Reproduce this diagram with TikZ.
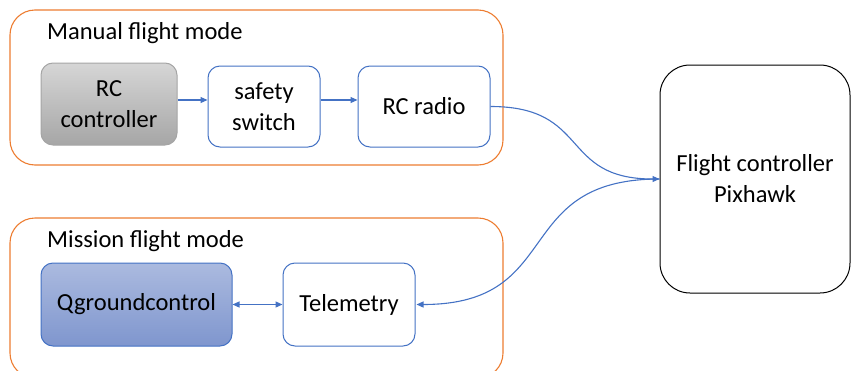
\documentclass[tikz,border=0pt]{standalone}
\usepackage{fontspec}
\setmainfont{Carlito}
\usetikzlibrary{arrows.meta}
\definecolor{orng}{HTML}{ED7D31}
\definecolor{blu}{HTML}{4472C4}
\definecolor{gtop}{HTML}{D6D6D6}
\definecolor{gbot}{HTML}{A6A6A6}
\definecolor{gbrd}{HTML}{A5A5A5}
\definecolor{btop}{HTML}{ABBADF}
\definecolor{bbot}{HTML}{7F96CE}
\tikzset{
  group/.style={draw=orng, line width=1.1pt, rounded corners=25pt, inner sep=0pt},
  blk/.style={draw=blu, line width=1pt, rounded corners=12pt, fill=white, align=center, inner sep=0pt},
  title/.style={anchor=base west, inner sep=0pt},
  conn/.style={draw=blu, line width=1.1pt, -{Triangle[length=7pt,width=6pt]}},
}
\begin{document}
\begin{tikzpicture}[x=1pt,y=-1pt,font=\fontsize{24.5}{31}\selectfont]
\useasboundingbox (0,0) rectangle (852,370);
\clip (0,0) rectangle (852,370);
% groups
\node[group, minimum width=493pt, minimum height=155pt] (manual) at (256.5,87.5) {};
\node[group, minimum width=493pt, minimum height=160pt] (mission) at (256.5,298) {};
\node[title] (mtitle) at (47,39) {Manual flight mode};
\node[title] (stitle) at (47,247) {Mission flight mode};
% blocks
\node[blk, draw=gbrd, top color=gtop, bottom color=gbot, minimum width=136pt, minimum height=82pt] (rc) at (109,104) {RC\\controller};
\node[blk, minimum width=112pt, minimum height=81pt] (safety) at (264,106.5) {safety\\switch};
\node[blk, minimum width=132pt, minimum height=81pt] (radio) at (424,106.5) {RC radio};
\node[blk, top color=btop, bottom color=bbot, minimum width=191pt, minimum height=83pt] (qgc) at (136.5,304.5) {Qgroundcontrol};
\node[blk, minimum width=132pt, minimum height=83pt] (telem) at (349,304.5) {Telemetry};
\node[blk, draw=black, rounded corners=30pt, minimum width=190pt, minimum height=228pt] (fc) at (755,179) {Flight controller\\Pixhawk};
% connectors
\draw[conn] ([yshift=4pt]rc.east) -- ([yshift=6.5pt]safety.west);
\draw[conn] ([yshift=6.5pt]safety.east) -- ([yshift=6.5pt]radio.west);
\draw[conn] (radio.east) to[out=0,in=180,looseness=1.4] (fc.west);
\draw[conn] (fc.west) to[out=180,in=0,looseness=1.4] ([xshift=1pt]telem.east);
\draw[conn, {Triangle[length=7pt,width=6pt]}-{Triangle[length=7pt,width=6pt]}] (qgc.east) -- (telem.west);
\end{tikzpicture}
\end{document}
